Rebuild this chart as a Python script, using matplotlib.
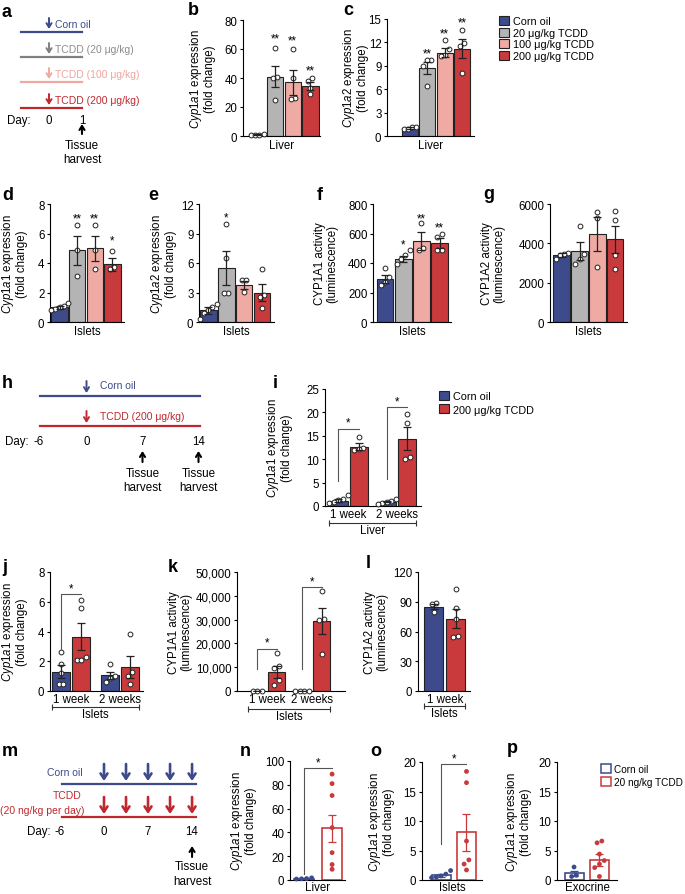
import numpy as np
import matplotlib
matplotlib.use("Agg")
import matplotlib.pyplot as plt
from matplotlib.patches import Patch
from matplotlib.transforms import ScaledTranslation
from matplotlib.ticker import FuncFormatter

plt.rcParams['font.family'] = 'Liberation Sans'
plt.rcParams['mathtext.fontset'] = 'custom'
plt.rcParams['mathtext.rm'] = 'Liberation Sans'
plt.rcParams['mathtext.it'] = 'Liberation Sans:italic'
plt.rcParams['font.size'] = 8.3
plt.rcParams['axes.linewidth'] = 0.8
plt.rcParams['xtick.major.width'] = 0.8
plt.rcParams['ytick.major.width'] = 0.8
plt.rcParams['ytick.major.size'] = 2.5
plt.rcParams['ytick.major.pad'] = 1.5

W, H, DPI = 685, 895, 100
FS = 8.3

BLUE = '#3d4b8c'
GRAY = '#b4b4b4'
PINK = '#eeaaa3'
RED = '#c93a3d'
DARK = '#222222'

# ---------------- data ----------------
dose_labels = ["Corn oil", "20 μg/kg TCDD", "100 μg/kg TCDD", "200 μg/kg TCDD"]
dose_colors = [BLUE, GRAY, PINK, RED]

# b: Cyp1a1 liver (1 day)
b_mean = [1.0, 41.0, 37.0, 34.5]
b_sem = [0.2, 7.5, 8.5, 2.5]
b_pts = [[0.6, 0.7, 0.9, 1.4], [61, 41, 40, 25], [60, 40, 26, 25.5], [38, 40, 33, 29]]
b_star = ["", "**", "**", "**"]
b_star_y = [0, 67, 66, 45]

# c: Cyp1a2 liver
c_mean = [1.0, 8.7, 10.7, 11.2]
c_sem = [0.1, 0.8, 0.6, 1.2]
c_pts = [[1.2, 0.9, 0.9, 1.2], [9.7, 9.7, 9.0, 6.4], [12.3, 11.1, 10.4, 10.3], [13.6, 11.9, 11.6, 8.1]]
c_star = ["", "**", "**", "**"]
c_star_y = [0, 10.6, 13.1, 14.5]

# d: Cyp1a1 islets
d_mean = [1.0, 4.85, 5.0, 3.9]
d_sem = [0.1, 1.0, 0.85, 0.45]
d_pts = [[1.3, 1.1, 1.0, 0.9, 0.8], [6.6, 4.9, 3.1], [6.6, 4.9, 3.6], [4.8, 3.7, 3.6]]
d_star = ["", "**", "**", "*"]
d_star_y = [0, 7.0, 7.0, 5.5]

# e: Cyp1a2 islets
e_mean = [1.2, 5.5, 3.8, 3.0]
e_sem = [0.35, 1.7, 0.4, 0.85]
e_pts = [[1.8, 1.5, 1.2, 0.9, 0.35], [10.0, 6.5, 2.9, 2.9], [4.3, 4.3, 3.1], [5.4, 2.7, 2.5, 1.4]]
e_star = ["", "*", "", ""]
e_star_y = [0, 10.6, 0, 0]

# f: CYP1A1 activity islets
f_mean = [293, 428, 548, 536]
f_sem = [26, 22, 60, 32]
f_pts = [[367, 304, 270, 248], [485, 455, 425, 395], [670, 502, 490], [598, 576, 490, 490]]
f_star = ["", "*", "**", "**"]
f_star_y = [0, 523, 705, 640]

# g: CYP1A2 activity islets
g_mean = [3420, 3600, 4480, 4200]
g_sem = [90, 450, 850, 700]
g_pts = [[3520, 3460, 3400, 3200], [4870, 3460, 3210, 2960], [5580, 5270, 2820], [5630, 5200, 3410, 2700]]

# i: Cyp1a1 liver, 1 and 2 weeks
week_labels = ["1 week", "2 weeks"]
i_corn_mean = [1.1, 0.9]
i_corn_sem = [0.3, 0.15]
i_tcdd_mean = [12.7, 14.4]
i_tcdd_sem = [0.7, 2.4]
i_corn_pts = [[2.3, 1.5, 1.2, 0.8, 0.7], [1.4, 1.1, 0.9, 0.6, 0.5]]
i_tcdd_pts = [[14.8, 12.4, 12.1, 11.9], [19.7, 17.7, 10.5, 10.0]]
i_sig_top = [16.5, 21.1]
i_sig_base = [5.4, 5.8]

# j: Cyp1a1 islets
j_corn_mean = [1.3, 1.05]
j_corn_sem = [0.45, 0.25]
j_tcdd_mean = [3.65, 1.6]
j_tcdd_sem = [0.9, 0.75]
j_corn_pts = [[2.6, 1.8, 1.2, 0.45, 0.45], [1.8, 1.0, 0.9, 0.6]]
j_tcdd_pts = [[6.1, 5.6, 2.3, 2.1, 2.1], [3.8, 1.3, 1.0, 0.5]]
j_sig_top = [6.5]
j_sig_base = [2.8]

# k: CYP1A1 activity islets
k_corn_mean = [60, 60]
k_corn_sem = [0, 0]
k_tcdd_mean = [7900, 29300]
k_tcdd_sem = [2400, 5400]
k_corn_pts = [[80, 60, 100], [50, 70, 60, 80]]
k_tcdd_pts = [[15900, 10400, 9800, 4800, 2600], [41900, 30400, 30000, 15700]]
k_sig_top = [17800, 43700]
k_sig_base = [9400, 9400]

# l: CYP1A2 activity islets, 1 week
l_mean = [85, 73]
l_sem = [2.5, 9.3]
l_pts = [[88.5, 88, 80], [103, 84, 73, 55, 54]]

# n, o, p: low dose (20 ng/kg per day)
low_labels = ["Corn oil", "20 ng/kg TCDD"]
n_mean = [1.2, 43.5]
n_sem = [0.3, 11.5]
n_pts = [[1.8, 1.2, 1.0, 0.8], [89, 81, 71, 44, 23, 13, 9]]
n_sig = (5.0, 94.0)

o_mean = [0.8, 8.1]
o_sem = [0.25, 3.1]
o_pts = [[1.6, 1.0, 0.7, 0.5, 0.4], [18.4, 16.5, 6.6, 3.4, 2.7, 1.7]]
o_sig = (6.1, 19.6)

p_mean = [1.15, 3.4]
p_sem = [0.45, 1.0]
p_pts = [[2.2, 0.8, 0.6], [6.6, 6.3, 4.4, 3.3, 2.7, 2.1, 0.6]]

# ---------------- helpers ----------------
fig = plt.figure(figsize=(W / DPI, H / DPI), dpi=DPI)
ov = fig.add_axes([0, 0, 1, 1])
ov.set_xlim(0, W)
ov.set_ylim(H, 0)
ov.axis('off')


def px_axes(l, t, r, b):
    return fig.add_axes([l / W, 1 - b / H, (r - l) / W, (b - t) / H])


def swarm(vals, tol, step):
    vals = np.asarray(vals, float)
    order = np.argsort(vals)
    offs = np.zeros(len(vals))
    clusters, cur = [], [order[0]]
    for k in order[1:]:
        if vals[k] - vals[cur[-1]] < tol:
            cur.append(k)
        else:
            clusters.append(cur)
            cur = [k]
    clusters.append(cur)
    for c in clusters:
        n = len(c)
        offs[c] = (np.arange(n) - (n - 1) / 2) * step
    return offs


def setup(ax, ylim, step, ylabel, lab_right_px, ax_left_px, ax_w_px, xlim, fmt=None):
    ax.set_ylim(0, ylim)
    ax.set_yticks(np.arange(0, ylim + step / 2, step))
    if fmt is not None:
        ax.yaxis.set_major_formatter(FuncFormatter(fmt))
    ax.set_xlim(*xlim)
    for s in ['top', 'right']:
        ax.spines[s].set_visible(False)
    ax.set_ylabel(ylabel, fontsize=FS, linespacing=1.05)
    ax.yaxis.set_label_coords((lab_right_px - ax_left_px) / ax_w_px, 0.5)
    ax.tick_params(axis='y', labelsize=FS)


def bars(ax, pos, means, sems, pts, fills, edges, ecols, pfill, pedge, width, ytop, tol=0.05):
    for x, m, s, p, fc, ec, erc, pf, pe in zip(pos, means, sems, pts, fills, edges, ecols, pfill, pedge):
        lw = 1.2 if fc == 'white' else 0.8
        ax.bar(x, m, width, color=fc, edgecolor=ec, linewidth=lw, zorder=2)
        offs = swarm(p, tol * ytop, 0.25 * width)
        ax.scatter(x + offs, p, s=12, facecolor=pf, edgecolor=pe, linewidth=0.7 if pe != 'none' else 0,
                   zorder=3, clip_on=False)
        ax.errorbar(x, m, yerr=s, color=erc, lw=0.9, capsize=3.2, capthick=0.9, zorder=4)


def stars(ax, pos, labels, ys):
    for x, t, y in zip(pos, labels, ys):
        if t:
            ax.text(x, y, t, ha='center', va='center', fontsize=FS)


def sig(ax, x0, x1, base, top):
    ax.plot([x0, x0, x1], [base, top, top], color='#555555', lw=0.8, zorder=5, clip_on=False)
    ax.text((x0 + x1) / 2, top, '*', ha='center', va='bottom', fontsize=FS)


def under_bracket(ax, x0, x1, text, dy_px):
    tr = ax.get_xaxis_transform() + ScaledTranslation(0, -dy_px / DPI, fig.dpi_scale_trans)
    ax.plot([x0, x1], [0, 0], transform=tr, color='#333333', lw=0.8, clip_on=False,
            marker='|', ms=4, mew=0.8)
    tr2 = ax.get_xaxis_transform() + ScaledTranslation(0, -(dy_px + 1) / DPI, fig.dpi_scale_trans)
    ax.text((x0 + x1) / 2, 0, text, transform=tr2, ha='center', va='top', fontsize=FS)


def arrow(x, y0, y1, color, lw=1.4, hl=0.35, hw=0.22):
    ov.annotate('', xy=(x, y1), xytext=(x, y0),
                arrowprops=dict(arrowstyle='->,head_length=%s,head_width=%s' % (hl, hw),
                                color=color, lw=lw, shrinkA=0, shrinkB=0))


def panel_label(x, y, t):
    ov.text(x, y, t, fontsize=13, fontweight='bold', ha='left', va='baseline')


cyp1a1 = "$\\it{Cyp1a1}$ expression\n(fold change)"
cyp1a2 = "$\\it{Cyp1a2}$ expression\n(fold change)"
act1 = "CYP1A1 activity\n(luminescence)"
act2 = "CYP1A2 activity\n(luminescence)"

pos4 = np.arange(4)
w4 = 0.93
white4 = ['white'] * 4
dark4 = [DARK] * 4

# ---------------- panel a ----------------
a_text = ["Corn oil", "TCDD (20 μg/kg)", "TCDD (100 μg/kg)", "TCDD (200 μg/kg)"]
a_line_col = [BLUE, '#808080', '#f0a9a1', '#c0282e']
a_text_col = [BLUE, '#8c8c8c', '#eea59d', '#c0282e']
a_days = [0, 1]
ax_day = lambda d: 49 + 33 * d
for k, yy in enumerate([33, 58, 83, 109]):
    ov.plot([21, ax_day(1)], [yy, yy], color=a_line_col[k], lw=1.6)
    arrow(ax_day(0), yy - 14, yy - 3, a_line_col[k])
    ov.text(55, yy - 8, a_text[k], va='center', ha='left', fontsize=7.5, color=a_text_col[k])
ov.text(7, 121, "Day:", va='center', ha='left', fontsize=FS)
for d in a_days:
    ov.text(ax_day(d), 121, str(d), va='center', ha='center', fontsize=FS)
arrow(ax_day(1), 135, 125, 'black', lw=1.5)
ov.text(ax_day(1), 146, "Tissue", ha='center', va='center', fontsize=8.4)
ov.text(ax_day(1), 160, "harvest", ha='center', va='center', fontsize=8.4)

# ---------------- panel b ----------------
ax = px_axes(243, 21, 320, 137)
setup(ax, 80, 20, cyp1a1, 216, 243, 77, (-0.81, 3.54))
bars(ax, pos4, b_mean, b_sem, b_pts, dose_colors, dark4, dark4, white4, dark4, w4, 80)
stars(ax, pos4, b_star, b_star_y)
ax.set_xticks([])
ax.set_xlabel("Liver", labelpad=2, fontsize=FS)

# ---------------- panel c ----------------
ax = px_axes(387, 20, 474, 137)
setup(ax, 15, 3, cyp1a2, 369, 387, 87, (-1.32, 3.68))
bars(ax, pos4, c_mean, c_sem, c_pts, dose_colors, dark4, dark4, white4, dark4, w4, 15)
stars(ax, pos4, c_star, c_star_y)
ax.set_xticks([])
ax.set_xlabel("Liver", labelpad=2, fontsize=FS)
fig.legend(handles=[Patch(facecolor=c, edgecolor=DARK, linewidth=0.8) for c in dose_colors],
           labels=dose_labels, loc='upper left', bbox_to_anchor=(499 / W, 1 - 17 / H),
           frameon=False, fontsize=7.8, handlelength=0.9, handleheight=0.9, handletextpad=0.4,
           labelspacing=0.12, borderpad=0, borderaxespad=0)

# ---------------- row d-g ----------------
ax = px_axes(50, 205, 124, 323)
setup(ax, 8, 2, cyp1a1, 28, 50, 74, (-0.54, 3.66))
bars(ax, pos4, d_mean, d_sem, d_pts, dose_colors, dark4, dark4, white4, dark4, w4, 8)
stars(ax, pos4, d_star, d_star_y)
ax.set_xticks([])
ax.set_xlabel("Islets", labelpad=2, fontsize=FS)

ax = px_axes(199, 205, 274, 323)
setup(ax, 12, 3, cyp1a2, 177, 199, 75, (-0.52, 3.67))
bars(ax, pos4, e_mean, e_sem, e_pts, dose_colors, dark4, dark4, white4, dark4, w4, 12)
stars(ax, pos4, e_star, e_star_y)
ax.set_xticks([])
ax.set_xlabel("Islets", labelpad=2, fontsize=FS)

ax = px_axes(373, 205, 451, 323)
setup(ax, 800, 200, act1, 338, 373, 78, (-0.66, 3.63))
bars(ax, pos4, f_mean, f_sem, f_pts, dose_colors, dark4, dark4, white4, dark4, w4, 800)
stars(ax, pos4, f_star, f_star_y)
ax.set_xticks([])
ax.set_xlabel("Islets", labelpad=2, fontsize=FS)

ax = px_axes(550, 205, 627, 323)
setup(ax, 6000, 2000, act2, 505, 550, 77, (-0.66, 3.67))
bars(ax, pos4, g_mean, g_sem, g_pts, dose_colors, dark4, dark4, white4, dark4, w4, 6000)
ax.set_xticks([])
ax.set_xlabel("Islets", labelpad=2, fontsize=FS)

# ---------------- panel h ----------------
h_days = [-6, 0, 7, 14]
hx = lambda d: 86.5 + 8.0 * d
ov.plot([hx(-6) + 2, hx(14) + 2], [397, 397], color=BLUE, lw=1.6)
ov.plot([hx(-6) + 2, hx(14) + 2], [427, 427], color='#c0282e', lw=1.6)
arrow(hx(0), 382, 394, BLUE)
arrow(hx(0), 412, 424, '#c0282e')
ov.text(100, 386, "Corn oil", va='center', ha='left', fontsize=7.5, color=BLUE)
ov.text(100, 417, "TCDD (200 μg/kg)", va='center', ha='left', fontsize=7.5, color='#c0282e')
ov.text(5, 442, "Day:", va='center', ha='left', fontsize=FS)
for d in h_days:
    ov.text(hx(d), 442, str(d), va='center', ha='center', fontsize=FS)
for d in [7, 14]:
    arrow(hx(d), 463, 452, 'black', lw=1.5)
    ov.text(hx(d), 474, "Tissue", ha='center', va='center', fontsize=8.4)
    ov.text(hx(d), 488, "harvest", ha='center', va='center', fontsize=8.4)

# ---------------- panel i ----------------
gpos = [0.0, 2.36]
ax = px_axes(325, 390, 421, 507)
setup(ax, 25, 5, cyp1a1, 293, 325, 96, (-0.65, 4.03))
cp = np.array(gpos)
tp = cp + 1
bars(ax, cp, i_corn_mean, i_corn_sem, i_corn_pts, [BLUE] * 2, [DARK] * 2, [DARK] * 2, ['white'] * 2, [DARK] * 2, 0.9, 25)
bars(ax, tp, i_tcdd_mean, i_tcdd_sem, i_tcdd_pts, [RED] * 2, [DARK] * 2, [DARK] * 2, ['white'] * 2, [DARK] * 2, 0.9, 25)
for k in range(2):
    sig(ax, cp[k], tp[k], i_sig_base[k], i_sig_top[k])
ax.set_xticks(cp + 0.5, week_labels)
ax.tick_params(axis='x', length=0, pad=1.5, labelsize=FS)
under_bracket(ax, cp[0] - 0.45, tp[1] + 0.45, "Liver", 17)
fig.legend(handles=[Patch(facecolor=c, edgecolor=DARK, linewidth=0.8) for c in [BLUE, RED]],
           labels=["Corn oil", "200 μg/kg TCDD"], loc='upper left', bbox_to_anchor=(439 / W, 1 - 392 / H),
           frameon=False, fontsize=7.8, handlelength=0.9, handleheight=0.9, handletextpad=0.4,
           labelspacing=0.3, borderpad=0, borderaxespad=0)

# ---------------- panel j ----------------
ax = px_axes(50, 573, 143, 692)
setup(ax, 8, 2, cyp1a1, 28, 50, 93, (-0.55, 4.1))
cp = np.array([0.0, 2.45])
tp = cp + 1
bars(ax, cp, j_corn_mean, j_corn_sem, j_corn_pts, [BLUE] * 2, [DARK] * 2, [DARK] * 2, ['white'] * 2, [DARK] * 2, 0.9, 8)
bars(ax, tp, j_tcdd_mean, j_tcdd_sem, j_tcdd_pts, [RED] * 2, [DARK] * 2, [DARK] * 2, ['white'] * 2, [DARK] * 2, 0.9, 8)
sig(ax, cp[0], tp[0], j_sig_base[0], j_sig_top[0])
ax.set_xticks(cp + 0.5, week_labels)
ax.tick_params(axis='x', length=0, pad=1.5, labelsize=FS)
under_bracket(ax, cp[0] - 0.45, tp[1] + 0.45, "Islets", 16)

# ---------------- panel k ----------------
ax = px_axes(237, 573, 345, 692)
setup(ax, 50000, 10000, act1, 192, 237, 108, (-1.03, 4.5), fmt=lambda v, p: f"{v:,.0f}")
cp = np.array([0.0, 2.3])
tp = cp + 1
bars(ax, cp, k_corn_mean, k_corn_sem, k_corn_pts, [BLUE] * 2, [DARK] * 2, [DARK] * 2, ['white'] * 2, [DARK] * 2, 0.9, 50000)
bars(ax, tp, k_tcdd_mean, k_tcdd_sem, k_tcdd_pts, [RED] * 2, [DARK] * 2, [DARK] * 2, ['white'] * 2, [DARK] * 2, 0.9, 50000)
for k in range(2):
    sig(ax, cp[k], tp[k], k_sig_base[k], k_sig_top[k])
ax.set_xticks(cp + 0.5, week_labels)
ax.tick_params(axis='x', length=0, pad=1.5, labelsize=FS)
under_bracket(ax, cp[0] - 0.45, tp[1] + 0.45, "Islets", 18)

# ---------------- panel l ----------------
ax = px_axes(418, 573, 470, 692)
setup(ax, 120, 30, act2, 388, 418, 52, (-0.74, 1.67))
lp = np.array([0.0, 1.0])
bars(ax, lp, l_mean, l_sem, l_pts, [BLUE, RED], [DARK] * 2, [DARK] * 2, ['white'] * 2, [DARK] * 2, 0.88, 120)
ax.set_xticks([0.5], [week_labels[0]])
ax.tick_params(axis='x', length=0, pad=1.5, labelsize=FS)
under_bracket(ax, lp[0] - 0.44, lp[1] + 0.44, "Islets", 15)

# ---------------- panel m ----------------
m_days = [-6, 0, 7, 14]
inj_days = [0, 3.5, 7, 10.5, 14]
mx = lambda d: 104 + 6.29 * d
ov.plot([mx(-6) - 4, mx(14) + 4], [785, 785], color=BLUE, lw=1.6)
ov.plot([mx(-6) - 4, mx(14) + 4], [818, 818], color='#c0282e', lw=1.6)
for d in inj_days:
    arrow(mx(d), 765, 782, BLUE, lw=1.9, hl=0.45, hw=0.3)
    arrow(mx(d), 798, 815, '#c0282e', lw=1.9, hl=0.45, hw=0.3)
ov.text(83, 773, "Corn oil", va='center', ha='right', fontsize=7.5, color=BLUE)
ov.text(67, 796, "TCDD", va='center', ha='center', fontsize=7.5, color='#c0282e')
ov.text(42, 811, "(20 ng/kg per day)", va='center', ha='center', fontsize=7.5, color='#c0282e')
ov.text(27, 832, "Day:", va='center', ha='left', fontsize=FS)
for d in m_days:
    ov.text(mx(d) - (7 if d == -6 else 0), 832, str(d), va='center', ha='center', fontsize=FS)
arrow(mx(14), 858, 847, 'black', lw=1.5)
ov.text(mx(14), 867, "Tissue", ha='center', va='center', fontsize=8.4)
ov.text(mx(14), 882, "harvest", ha='center', va='center', fontsize=8.4)

# ---------------- panels n, o, p ----------------
lowp = np.array([0.0, 1.0])
ax = px_axes(290, 762, 345, 881)
setup(ax, 100, 20, cyp1a1, 257, 290, 55, (-0.5, 1.46))
bars(ax, lowp, n_mean, n_sem, n_pts, ['white'] * 2, [BLUE, RED], [BLUE, RED], [BLUE, RED], ['none'] * 2, 0.72, 100, tol=0.035)
sig(ax, lowp[0], lowp[1], n_sig[0], n_sig[1])
ax.set_xticks([])
ax.set_xlabel("Liver", labelpad=0.5, fontsize=FS)

ax = px_axes(422, 763, 482, 881)
setup(ax, 20, 5, cyp1a1, 395, 422, 60, (-0.75, 1.61))
bars(ax, lowp, o_mean, o_sem, o_pts, ['white'] * 2, [BLUE, RED], [BLUE, RED], [BLUE, RED], ['none'] * 2, 0.75, 20, tol=0.035)
sig(ax, lowp[0], lowp[1], o_sig[0], o_sig[1])
ax.set_xticks([])
ax.set_xlabel("Islets", labelpad=0.5, fontsize=FS)

ax = px_axes(557, 763, 617, 881)
setup(ax, 20, 5, cyp1a1, 532, 557, 60, (-0.67, 1.69))
bars(ax, lowp, p_mean, p_sem, p_pts, ['white'] * 2, [BLUE, RED], [BLUE, RED], [BLUE, RED], ['none'] * 2, 0.75, 20, tol=0.035)
ax.set_xticks([])
ax.set_xlabel("Exocrine", labelpad=0.5, fontsize=FS)
fig.legend(handles=[Patch(facecolor='white', edgecolor=c, linewidth=1.1) for c in [BLUE, RED]],
           labels=low_labels, loc='upper left', bbox_to_anchor=(601 / W, 1 - 765 / H),
           frameon=False, fontsize=7.2, handlelength=0.95, handleheight=0.95, handletextpad=0.35,
           labelspacing=0.3, borderpad=0, borderaxespad=0)

# ---------------- panel letters ----------------
for x, y, t in [(2, 17, 'a'), (188, 15, 'b'), (343, 15, 'c'),
                (2, 200, 'd'), (148, 200, 'e'), (317, 200, 'f'), (483, 199, 'g'),
                (2, 388, 'h'), (273, 388, 'i'),
                (2, 572, 'j'), (168, 572, 'k'), (366, 568, 'l'),
                (2, 756, 'm'), (240, 756, 'n'), (370, 756, 'o'), (507, 753, 'p')]:
    panel_label(x, y, t)

fig.savefig("out.png", dpi=DPI)
